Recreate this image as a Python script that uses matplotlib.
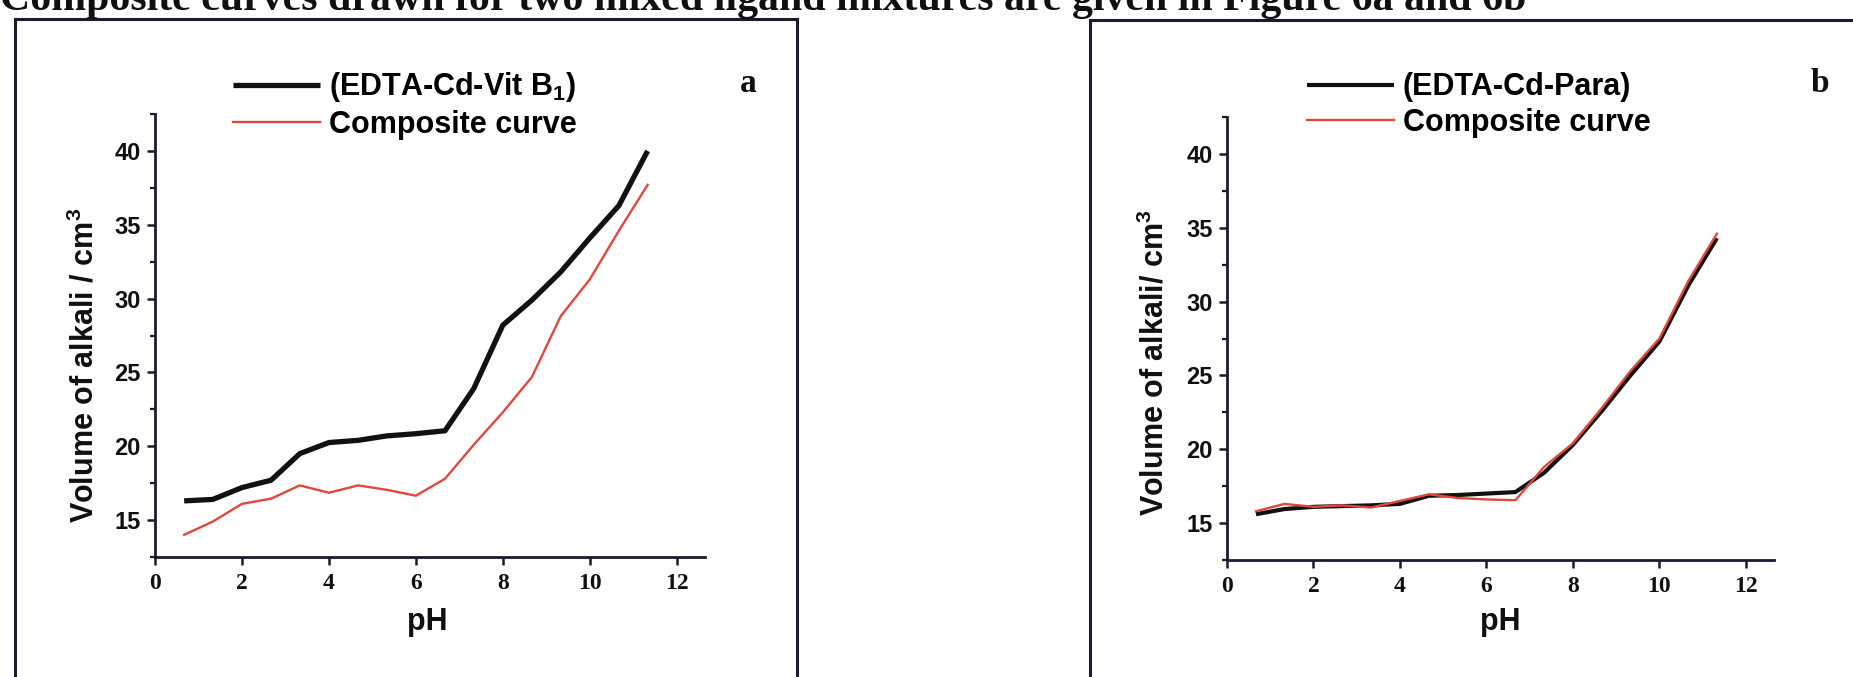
import matplotlib
matplotlib.use("Agg")
import matplotlib.pyplot as plt
from matplotlib.lines import Line2D
from matplotlib.ticker import MultipleLocator
from matplotlib.font_manager import FontProperties

plt.rcParams['mathtext.fontset'] = 'custom'
plt.rcParams['mathtext.rm'] = 'Liberation Sans:bold'
plt.rcParams['mathtext.bf'] = 'Liberation Sans:bold'
plt.rcParams['mathtext.it'] = 'Liberation Sans:bold'

# ---- data -------------------------------------------------------------
ph = [0.67, 1.33, 2.0, 2.67, 3.33, 4.0, 4.67, 5.33, 6.0, 6.67,
      7.33, 8.0, 8.67, 9.33, 10.0, 10.67, 11.33]

# (a) EDTA-Cd-Vit B1 system
vitb1_mixed = [16.3, 16.4, 17.2, 17.7, 19.5, 20.25, 20.4, 20.7, 20.85, 21.05,
               23.9, 28.2, 29.9, 31.8, 34.1, 36.3, 40.0]
vitb1_composite = [14.0, 14.9, 16.1, 16.45, 17.35, 16.85, 17.35, 17.05, 16.65, 17.8,
                   20.1, 22.3, 24.7, 28.8, 31.3, 34.6, 37.7]

# (b) EDTA-Cd-Para system
para_mixed = [15.6, 15.95, 16.1, 16.15, 16.2, 16.3, 16.85, 16.9, 17.0, 17.1,
              18.4, 20.3, 22.6, 25.0, 27.3, 31.1, 34.3]
para_composite = [15.8, 16.3, 16.1, 16.2, 16.05, 16.5, 16.95, 16.7, 16.6, 16.55,
                  18.8, 20.4, 22.8, 25.3, 27.5, 31.4, 34.6]

legend_labels_a = [r'(EDTA-Cd-Vit B$_1$)', 'Composite curve']
legend_labels_b = ['(EDTA-Cd-Para)', 'Composite curve']
ylabels = [r'Volume of alkali / cm$^3$', r'Volume of alkali/ cm$^3$']
panel_tags = ['a', 'b']
x_ticks = [0, 2, 4, 6, 8, 10, 12]
y_ticks = [15, 20, 25, 30, 35, 40]
TITLE = 'Composite curves drawn for two mixed ligand mixtures are given in Figure 6a and 6b'

# ---- figure ------------------------------------------------------------
W, H = 1853, 677
fig = plt.figure(figsize=(W / 100, H / 100), dpi=100)
fig.patch.set_facecolor('white')

INK = '#1b1b2c'
BLACK = '#111111'
RED = '#e2473c'


def px(x, y):
    """pixel position (from top-left) -> figure fraction"""
    return x / W, 1 - y / H


# title line (only its lower part shows at the top edge)
title = fig.text(0, 1 - 10 / H, TITLE, ha='left', va='baseline',
                 fontfamily='Liberation Serif', fontweight='bold', fontsize=30,
                 color='#101010')
fig.canvas.draw()
w = title.get_window_extent().width
title.set_fontsize(30 * 1525 / w)

# panel frames
def frame(x0, x1, y0, right=True):
    segs = [((x0, y0), (x0, H + 5)), ((x0, y0), (x1, y0))]
    if right:
        segs.append(((x1, y0), (x1, H + 5)))
    for (a, b) in segs:
        xa, ya = px(*a)
        xb, yb = px(*b)
        fig.add_artist(Line2D([xa, xb], [ya, yb], color=INK, lw=2.2,
                              transform=fig.transFigure))

frame(15, 797, 19)
frame(1090, W + 5, 20, right=False)

sans_bold = dict(fontfamily='Liberation Sans', fontweight='bold')
serif_bold = dict(fontfamily='Liberation Serif', fontweight='bold')

panels = [
    dict(box=(155, 114, 705, 557), mixed=vitb1_mixed, comp=vitb1_composite,
         labels=legend_labels_a, ylabel=ylabels[0], tag=panel_tags[0],
         leg_x=233, tag_x=748, ylab=(-0.127, 0.432), xlab=(0.495, -0.147),
         lw_black=3.8, lw_red=1.7),
    dict(box=(1227, 117, 1774, 560), mixed=para_mixed, comp=para_composite,
         labels=legend_labels_b, ylabel=ylabels[1], tag=panel_tags[1],
         leg_x=1307, tag_x=1820, ylab=(-0.132, 0.446), xlab=(0.499, -0.14),
         lw_black=3.0, lw_red=1.7),
]

for p in panels:
    x0, y0, x1, y1 = p['box']
    fx0, fy1 = px(x0, y1)
    ax = fig.add_axes([fx0, fy1, (x1 - x0) / W, (y1 - y0) / H])
    ax.set_facecolor('none')

    l1, = ax.plot(ph, p['mixed'], color=BLACK, lw=p['lw_black'],
                  solid_joinstyle='round', solid_capstyle='butt')
    l2, = ax.plot(ph, p['comp'], color=RED, lw=p['lw_red'],
                  solid_joinstyle='round')

    ax.set_xlim(0, 12.65)
    ax.set_ylim(12.5, 42.5)
    ax.set_xticks(x_ticks)
    ax.set_yticks(y_ticks)
    ax.yaxis.set_minor_locator(MultipleLocator(2.5))

    for s in ('top', 'right'):
        ax.spines[s].set_visible(False)
    for s in ('left', 'bottom'):
        ax.spines[s].set_linewidth(2.0)
        ax.spines[s].set_color(INK)

    ax.tick_params(axis='both', which='major', direction='out', length=5.5,
                   width=1.8, color=INK)
    ax.tick_params(axis='y', which='minor', direction='out', length=3.5,
                   width=1.6, color=INK)
    ax.tick_params(axis='x', pad=6)
    ax.tick_params(axis='y', pad=5)

    for t in ax.get_xticklabels():
        t.set(fontsize=17, color='#101010', **serif_bold)
    for t in ax.get_yticklabels():
        t.set(fontsize=17, color='#101010', **sans_bold)

    ax.set_xlabel('pH', fontsize=22, color='#101010', **sans_bold)
    ax.xaxis.label.set_va('center')
    ax.xaxis.set_label_coords(*p['xlab'])

    ax.set_ylabel(p['ylabel'], fontsize=22, color='#101010', **sans_bold)
    ax.yaxis.label.set_va('center')
    ax.yaxis.set_label_coords(*p['ylab'])

    lx, ly = px(p['leg_x'], 105)
    ax.legend([l1, l2], p['labels'], loc='center left',
              bbox_to_anchor=(lx, ly), bbox_transform=fig.transFigure,
              frameon=False, borderpad=0, borderaxespad=0,
              handlelength=2.85, handletextpad=0.28, labelspacing=0.18,
              prop=FontProperties(family='Liberation Sans', weight='bold', size=22))

    tx, ty = px(p['tag_x'], 84)
    fig.text(tx, ty, p['tag'], ha='center', va='center', fontsize=24,
             color='#101010', **serif_bold)

fig.savefig('out.png', dpi=100, facecolor='white')
